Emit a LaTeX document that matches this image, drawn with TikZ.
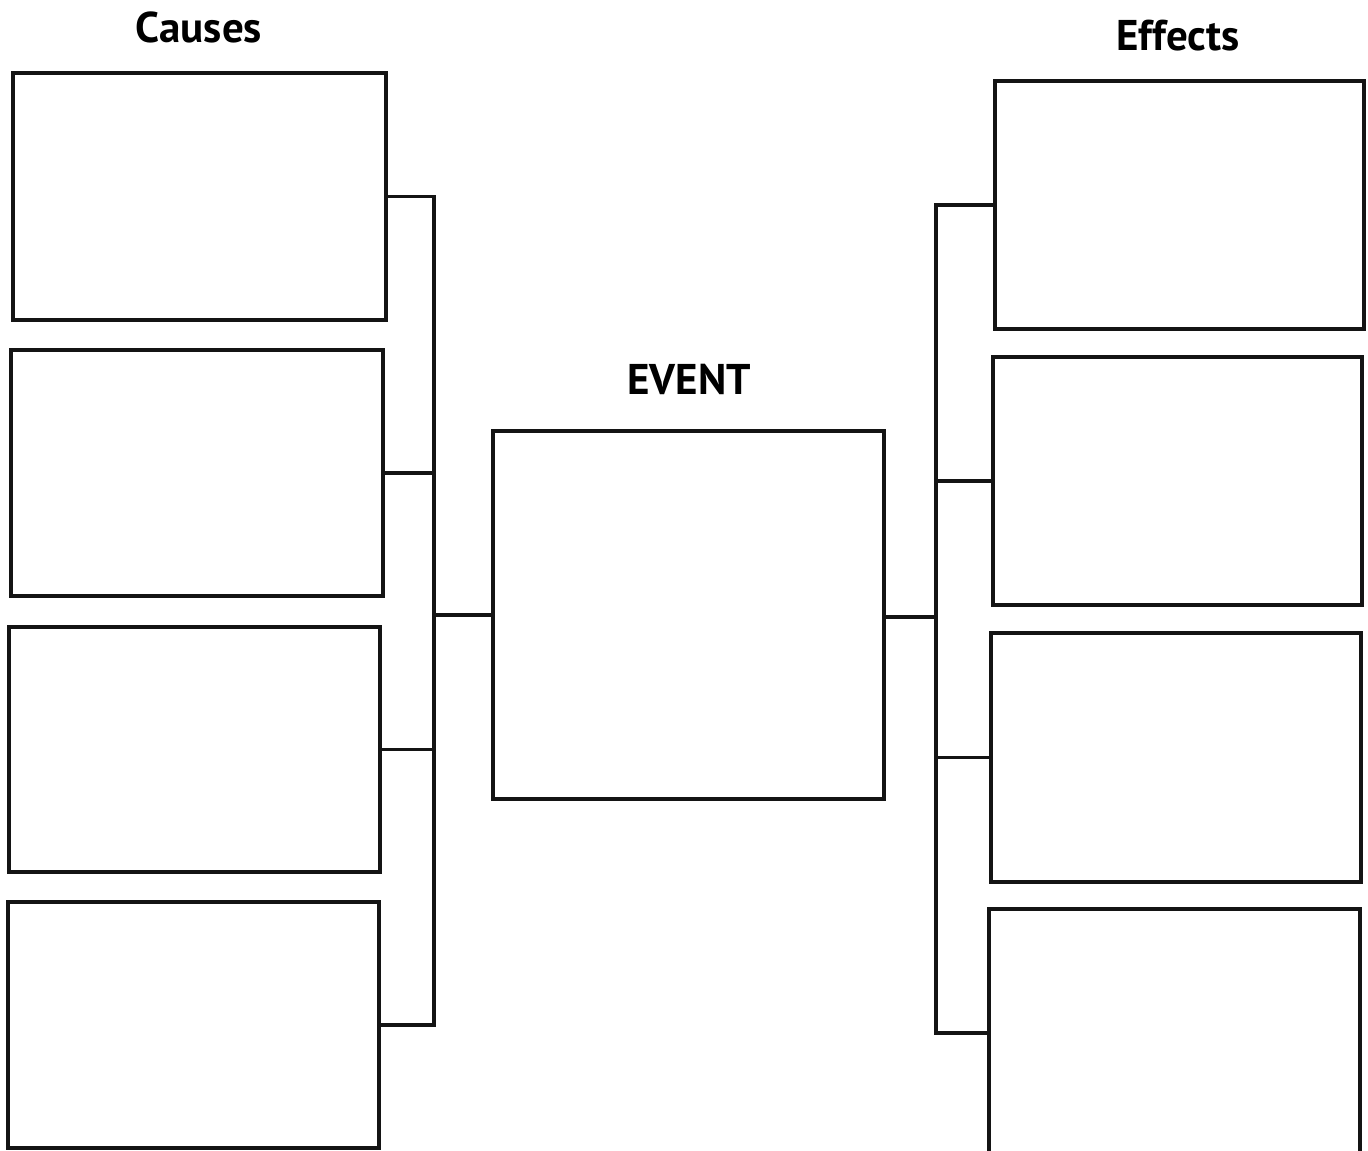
\documentclass[tikz,border=0pt]{standalone}
\usepackage{fontspec}
\setmainfont{PT Sans}
\begin{document}
\begin{tikzpicture}[x=1pt,y=-1pt,
  frame/.style={draw=black!92, line width=3.4pt, rectangle, inner sep=0pt},
  link/.style={draw=black!92, line width=3.2pt},
  heading/.style={font=\fontsize{43}{50}\selectfont\bfseries, inner sep=0pt}]
  \useasboundingbox (0,0) rectangle (1368,1151);
  \clip (0,0) rectangle (1368,1151);
  % headings
  \node[heading] (hc) at (199,27) {Causes};
  \node[heading] (he) at (1178,36) {Effects};
  \node[heading] (hv) at (689,379) {EVENT};
  % cause boxes
  \node[frame, minimum width=373pt, minimum height=247pt] (c1) at (199.5,196.5) {};
  \node[frame, minimum width=372pt, minimum height=246pt] (c2) at (197,473) {};
  \node[frame, minimum width=371pt, minimum height=245pt] (c3) at (194.5,749.5) {};
  \node[frame, minimum width=371pt, minimum height=246pt] (c4) at (193.5,1025) {};
  % event box
  \node[frame, minimum width=391pt, minimum height=368pt] (ev) at (688.5,615) {};
  % effect boxes
  \node[frame, minimum width=369pt, minimum height=248pt] (e1) at (1179.5,205) {};
  \node[frame, minimum width=369pt, minimum height=248pt] (e2) at (1177.5,481) {};
  \node[frame, minimum width=370pt, minimum height=249pt] (e3) at (1176,757.5) {};
  \node[frame, minimum width=371pt, minimum height=248pt] (e4) at (1174.5,1033) {};
  % bracket buses
  \coordinate (lbus) at (434,615);
  \coordinate (rbus) at (936,617);
  % causes bracket into the event
  \foreach \c in {c1,c2,c3,c4} \draw[link] (\c.east) -| (lbus);
  \draw[link] (lbus) -- (ev.west |- lbus);
  % event bracket out to the effects
  \draw[link] (ev.east |- rbus) -- (rbus);
  \foreach \e in {e1,e2,e3,e4} \draw[link] (rbus) |- (\e.west);
\end{tikzpicture}
\end{document}
